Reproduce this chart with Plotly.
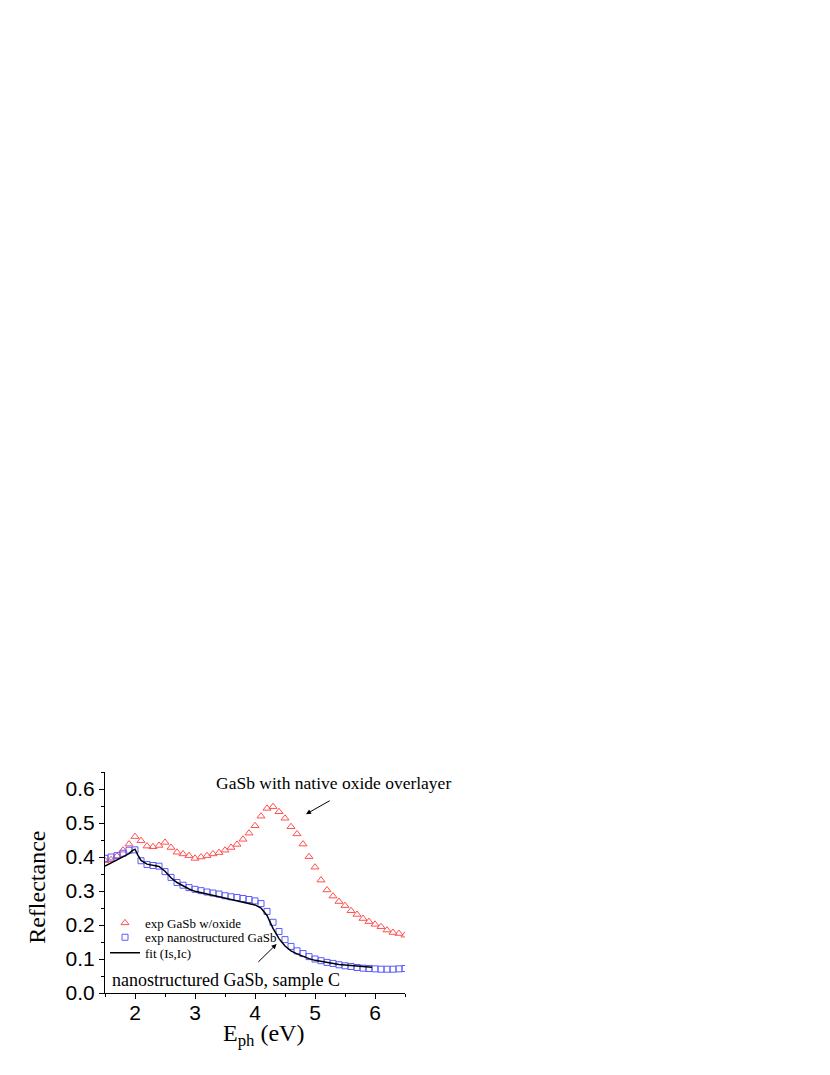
import plotly.graph_objects as go

# photon energy grid of the measured points (eV)
energy = [1.5, 1.6, 1.7, 1.8, 1.9, 2.0, 2.1, 2.2, 2.3, 2.4, 2.5, 2.6, 2.7, 2.8, 2.9,
          3.0, 3.1, 3.2, 3.3, 3.4, 3.5, 3.6, 3.7, 3.8, 3.9, 4.0, 4.1, 4.2, 4.3, 4.4,
          4.5, 4.6, 4.7, 4.8, 4.9, 5.0, 5.1, 5.2, 5.3, 5.4, 5.5, 5.6, 5.7, 5.8, 5.9,
          6.0, 6.1, 6.2, 6.3, 6.4, 6.5]

# exp GaSb w/oxide
r_oxide = [0.389, 0.392, 0.403, 0.420, 0.438, 0.460, 0.448, 0.432, 0.430, 0.434,
           0.443, 0.428, 0.414, 0.409, 0.404, 0.396, 0.400, 0.404, 0.409, 0.413,
           0.420, 0.428, 0.437, 0.452, 0.470, 0.492, 0.520, 0.543, 0.548, 0.533,
           0.514, 0.489, 0.468, 0.438, 0.401, 0.370, 0.332, 0.303, 0.285, 0.269,
           0.257, 0.242, 0.231, 0.219, 0.210, 0.202, 0.195, 0.185, 0.178, 0.175,
           0.170]

# exp nanostructured GaSb
r_nano = [0.396, 0.400, 0.404, 0.411, 0.420, 0.421, 0.389, 0.378, 0.375, 0.373,
          0.357, 0.340, 0.325, 0.317, 0.310, 0.305, 0.301, 0.297, 0.294, 0.291,
          0.286, 0.283, 0.281, 0.278, 0.275, 0.271, 0.263, 0.240, 0.208, 0.181,
          0.157, 0.137, 0.124, 0.116, 0.107, 0.100, 0.095, 0.090, 0.087, 0.083,
          0.080, 0.078, 0.075, 0.073, 0.072, 0.071, 0.070, 0.070, 0.070, 0.071,
          0.072]

# fit (Is,Ic)
fit_e = [1.5, 1.6, 1.7, 1.8, 1.9, 1.95, 2.0, 2.05, 2.1, 2.2, 2.3, 2.4, 2.5, 2.6,
         2.7, 2.8, 2.9, 3.0, 3.2, 3.4, 3.6, 3.8, 4.0, 4.1, 4.2, 4.3, 4.4, 4.5,
         4.6, 4.7, 4.8, 4.9, 5.0, 5.2, 5.4, 5.6, 5.8, 5.95]
fit_r = [0.373, 0.382, 0.390, 0.400, 0.410, 0.418, 0.423, 0.405, 0.390, 0.379,
         0.376, 0.372, 0.358, 0.339, 0.325, 0.315, 0.306, 0.299, 0.291, 0.284,
         0.275, 0.268, 0.259, 0.250, 0.228, 0.190, 0.160, 0.138, 0.124, 0.115,
         0.107, 0.101, 0.096, 0.089, 0.084, 0.081, 0.078, 0.076]

serif = "Liberation Serif, Times New Roman, serif"
sans = "Liberation Sans, Arial, sans-serif"

fig = go.Figure()

# one legend per trace so the entries can sit as tightly as in the original
fig.add_trace(go.Scatter(x=energy, y=r_oxide, mode="markers", name="exp GaSb w/oxide",
                         legend="legend",
                         marker=dict(symbol="triangle-up-open", size=7,
                                     color="rgb(255,80,80)", line=dict(width=1))))
fig.add_trace(go.Scatter(x=energy, y=r_nano, mode="markers", name="exp nanostructured GaSb",
                         legend="legend2",
                         marker=dict(symbol="square-open", size=6,
                                     color="rgb(90,90,255)", line=dict(width=1))))
fig.add_trace(go.Scatter(x=fit_e, y=fit_r, mode="lines", name="fit (Is,Ic)",
                         legend="legend3",
                         line=dict(color="black", width=1.5)))

axis_common = dict(showline=True, linecolor="black", linewidth=1, ticks="outside",
                   ticklen=5, tickcolor="black", showgrid=False, zeroline=False,
                   tickfont=dict(family=sans, size=21, color="black"))

leg = dict(x=0.0, xanchor="left", yanchor="top", bgcolor="rgba(0,0,0,0)",
           font=dict(family=serif, size=13, color="black"))

# the page body adds an 8px offset, margins compensate for it
fig.update_layout(
    width=830, height=1075,
    margin=dict(l=97, r=433, t=764, b=90),
    paper_bgcolor="white", plot_bgcolor="white",
    xaxis=dict(range=[1.5, 6.5], dtick=1, tick0=0, ticklabelstandoff=-4,
               minor=dict(dtick=0.5, ticks="outside", ticklen=3, tickcolor="black"),
               **axis_common),
    yaxis=dict(range=[0, 0.65], dtick=0.1, tick0=0, tickformat=".1f",
               minor=dict(dtick=0.05, ticks="outside", ticklen=3, tickcolor="black"),
               **axis_common),
    legend=dict(y=0.385, **leg),
    legend2=dict(y=0.320, **leg),
    legend3=dict(y=0.250, **leg),
    showlegend=True,
)

# axis titles
fig.add_annotation(text="Reflectance", xref="paper", yref="paper", x=-0.227, y=0.48,
                   xanchor="center", yanchor="middle",
                   textangle=-90, showarrow=False,
                   font=dict(family=serif, size=24, color="black"))
fig.add_annotation(text="E<sub>ph</sub> (eV)", xref="paper", yref="paper", x=0.527, y=-0.117,
                   xanchor="center", yanchor="top", showarrow=False, borderpad=0,
                   font=dict(family=serif, size=24, color="black"))

# labels with arrows
fig.add_annotation(text="GaSb with native oxide overlayer", xref="x", yref="y",
                   x=5.31, y=0.619, showarrow=False,
                   font=dict(family=serif, size=17.5, color="black"))
fig.add_annotation(x=4.85, y=0.526, ax=5.27, ay=0.568, xref="x", yref="y",
                   axref="x", ayref="y", showarrow=True, arrowhead=2, arrowsize=1,
                   arrowwidth=1, arrowcolor="black", text="")
fig.add_annotation(text="nanostructured GaSb, sample C", xref="x", yref="y",
                   x=3.52, y=0.038, showarrow=False,
                   font=dict(family=serif, size=18, color="black"))
fig.add_annotation(x=4.36, y=0.144, ax=4.03, ay=0.087, xref="x", yref="y",
                   axref="x", ayref="y", showarrow=True, arrowhead=2, arrowsize=1,
                   arrowwidth=1, arrowcolor="black", text="")

fig.write_html("out.html")
